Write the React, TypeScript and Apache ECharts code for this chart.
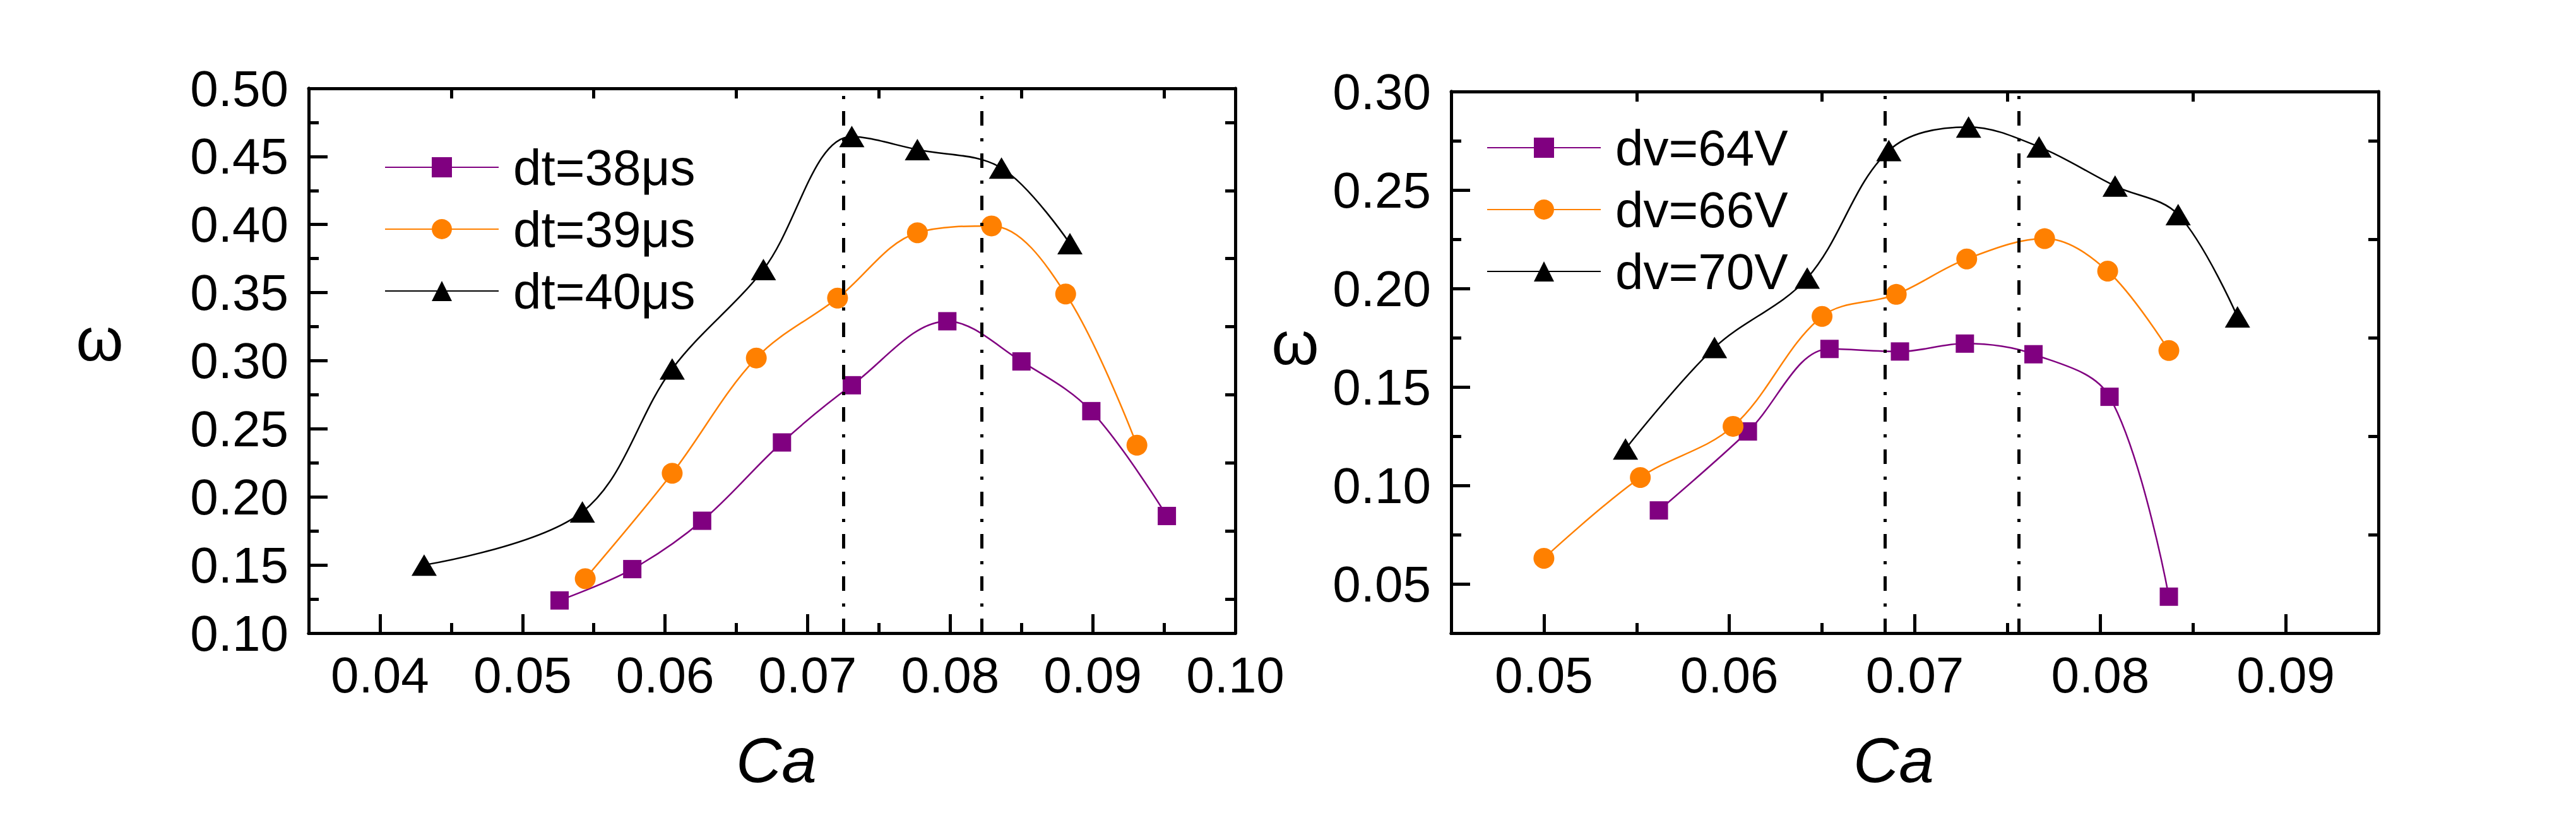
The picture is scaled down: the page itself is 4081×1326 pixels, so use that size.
import React, { useEffect, useRef } from "react";
import * as echarts from "echarts";

// ---------- data (left panel) ----------
const ca38 = [0.0526, 0.0577, 0.0626, 0.0682, 0.0731, 0.0798, 0.0850, 0.0899, 0.0952];
const w38 = [0.124, 0.147, 0.1825, 0.240, 0.282, 0.329, 0.2995, 0.263, 0.186];
const ca39 = [0.0544, 0.0605, 0.0664, 0.0721, 0.0777, 0.0829, 0.0881, 0.0931];
const w39 = [0.140, 0.2174, 0.302, 0.346, 0.394, 0.399, 0.349, 0.238];
const ca40 = [0.0431, 0.0542, 0.0605, 0.0669, 0.0731, 0.0777, 0.0836, 0.0884];
const w40 = [0.150, 0.189, 0.294, 0.367, 0.4647, 0.455, 0.4415, 0.386];
const refLinesLeft = [0.0725, 0.0822];

// ---------- data (right panel) ----------
const ca64 = [0.0562, 0.0610, 0.0654, 0.0692, 0.0727, 0.0764, 0.0805, 0.0837];
const w64 = [0.0873, 0.1274, 0.1693, 0.168, 0.172, 0.1666, 0.145, 0.0435];
const ca66 = [0.0500, 0.0552, 0.0602, 0.0650, 0.0690, 0.0728, 0.0770, 0.0804, 0.0837];
const w66 = [0.063, 0.104, 0.130, 0.1858, 0.197, 0.215, 0.2253, 0.2088, 0.1685];
const ca70 = [0.0544, 0.0592, 0.0642, 0.0686, 0.0729, 0.0767, 0.0808, 0.0842, 0.0874];
const w70 = [0.1185, 0.170, 0.2053, 0.270, 0.282, 0.2719, 0.252, 0.2375, 0.1856];
const refLinesRight = [0.0684, 0.0756];

// ---------- tick values ----------
const leftXMajor = [0.04, 0.05, 0.06, 0.07, 0.08, 0.09, 0.1];
const leftXMinor = [0.045, 0.055, 0.065, 0.075, 0.085, 0.095];
const leftYMajor = [0.1, 0.15, 0.2, 0.25, 0.3, 0.35, 0.4, 0.45, 0.5];
const leftYMinor = [0.125, 0.175, 0.225, 0.275, 0.325, 0.375, 0.425, 0.475];
const rightXMajor = [0.05, 0.06, 0.07, 0.08, 0.09];
const rightXMinor = [0.055, 0.065, 0.075, 0.085];
const rightYMajor = [0.05, 0.1, 0.15, 0.2, 0.25, 0.3];
const rightYMinor = [0.075, 0.125, 0.175, 0.225, 0.275];

const legendLeft = ["dt=38μs", "dt=39μs", "dt=40μs"];
const legendRight = ["dv=64V", "dv=66V", "dv=70V"];
const xTitle = "Ca";
const yTitle = "ω";

const FONT = "'Liberation Sans', Arial, sans-serif";
const PURPLE = "#800080";
const ORANGE = "#FF8000";
const BLACK = "#000000";

const GRIDS = [
  { left: 489, top: 140, width: 1468, height: 863 },
  { left: 2299, top: 145, width: 1469, height: 858 },
];
const LEFT_X = [0.035, 0.1];
const LEFT_Y = [0.1, 0.5];
const RIGHT_X = [0.045, 0.095];
const RIGHT_Y = [0.025, 0.3];

const zip = (xs: number[], ys: number[]) => xs.map((x, i) => [x, ys[i]]);

export default function App() {
  const dataRef = useRef<HTMLDivElement>(null);
  const axisRef = useRef<HTMLDivElement>(null);

  useEffect(() => {
    if (!dataRef.current || !axisRef.current) return;
    const dataChart = echarts.init(dataRef.current, null, { renderer: "svg" });
    const axisChart = echarts.init(axisRef.current, null, { renderer: "svg" });
    const fmt = (v: number) => v.toFixed(2);

    // ----- data chart: labels, series, legend, titles -----
    const labelAxis = (gridIndex: number, position: string, range: number[], vals: number[], margin: number) => ({
      type: "value",
      gridIndex,
      position,
      min: range[0],
      max: range[1],
      axisLine: { show: false, onZero: false },
      axisTick: { show: false },
      axisLabel: {
        show: true,
        margin,
        color: BLACK,
        fontSize: 80,
        fontFamily: FONT,
        formatter: fmt,
        customValues: vals,
      },
      splitLine: { show: false },
    });

    const lineSeries = (
      name: string,
      xs: number[],
      ys: number[],
      color: string,
      symbol: string,
      symbolSize: any,
      axisIndex: number,
      extra: any = {}
    ) => ({
      type: "line",
      name,
      xAxisIndex: axisIndex,
      yAxisIndex: axisIndex,
      data: zip(xs, ys),
      smooth: 0.35,
      symbol,
      symbolSize,
      showSymbol: true,
      lineStyle: { color, width: 2.5 },
      itemStyle: { color, borderWidth: 0 },
      ...extra,
    });

    const refLine = (vals: number[]) => ({
      silent: true,
      precision: 5,
      symbol: ["none", "none"],
      label: { show: false },
      lineStyle: { color: BLACK, width: 5, type: [23, 19, 5, 20] },
      data: vals.map((v) => ({ xAxis: v })),
    });

    const legendCommon = {
      orient: "vertical",
      padding: 0,
      itemWidth: 180,
      itemHeight: 40,
      itemGap: 18,
      textStyle: { color: BLACK, fontSize: 80, fontFamily: FONT, lineHeight: 80, padding: [0, 0, 0, 18] },
    };

    const titleText = (text: string, x: number, y: number, size: number, italic: boolean) => ({
      type: "text",
      x,
      y,
      silent: true,
      style: {
        text,
        fill: BLACK,
        font: `${italic ? "italic " : ""}${size}px ${FONT}`,
        align: "center",
        verticalAlign: "middle",
      },
    });

    dataChart.setOption({
      animation: false,
      grid: GRIDS,
      legend: [
        { ...legendCommon, data: legendLeft, left: 609, top: 225 },
        { ...legendCommon, data: legendRight, left: 2355, top: 194 },
      ],
      xAxis: [labelAxis(0, "bottom", LEFT_X, leftXMajor, 26), labelAxis(1, "bottom", RIGHT_X, rightXMajor, 26)],
      yAxis: [labelAxis(0, "left", LEFT_Y, leftYMajor, 32), labelAxis(1, "left", RIGHT_Y, rightYMajor, 32)],
      graphic: [
        titleText(xTitle, 1230, 1204, 100, true),
        titleText(xTitle, 3000, 1204, 100, true),
        titleText(yTitle, 158, 537, 96, false),
        titleText(yTitle, 2052, 543, 96, false),
      ],
      series: [
        lineSeries(legendLeft[0], ca38, w38, PURPLE, "rect", 29, 0, { markLine: refLine(refLinesLeft) }),
        lineSeries(legendLeft[1], ca39, w39, ORANGE, "circle", 33, 0),
        lineSeries(legendLeft[2], ca40, w40, BLACK, "triangle", [40, 34], 0),
        lineSeries(legendRight[0], ca64, w64, PURPLE, "rect", 29, 1, { markLine: refLine(refLinesRight) }),
        lineSeries(legendRight[1], ca66, w66, ORANGE, "circle", 33, 1),
        lineSeries(legendRight[2], ca70, w70, BLACK, "triangle", [40, 34], 1),
      ],
    } as any);

    // ----- axis chart: frame lines and inward ticks on the same scales -----
    const tickAxis = (gridIndex: number, position: string, range: number[], vals: number[], length: number) => ({
      type: "value",
      gridIndex,
      position,
      min: range[0],
      max: range[1],
      axisLine: { show: true, onZero: false, lineStyle: { color: BLACK, width: 5 } },
      axisTick: { show: true, inside: true, length, lineStyle: { color: BLACK, width: 5 }, customValues: vals },
      axisLabel: { show: false, customValues: vals },
      splitLine: { show: false },
    });

    axisChart.setOption({
      animation: false,
      grid: GRIDS,
      xAxis: [
        tickAxis(0, "bottom", LEFT_X, leftXMajor, 30),
        tickAxis(0, "bottom", LEFT_X, leftXMinor, 16),
        tickAxis(0, "top", LEFT_X, leftXMinor, 16),
        tickAxis(1, "bottom", RIGHT_X, rightXMajor, 30),
        tickAxis(1, "bottom", RIGHT_X, rightXMinor, 16),
        tickAxis(1, "top", RIGHT_X, rightXMinor, 16),
      ],
      yAxis: [
        tickAxis(0, "left", LEFT_Y, leftYMajor, 30),
        tickAxis(0, "left", LEFT_Y, leftYMinor, 16),
        tickAxis(0, "right", LEFT_Y, leftYMinor, 16),
        tickAxis(1, "left", RIGHT_Y, rightYMajor, 30),
        tickAxis(1, "left", RIGHT_Y, rightYMinor, 16),
        tickAxis(1, "right", RIGHT_Y, rightYMinor, 16),
      ],
      series: [],
    } as any);

    return () => {
      dataChart.dispose();
      axisChart.dispose();
    };
  }, []);

  const box: React.CSSProperties = { position: "fixed", left: 0, top: 0, width: 4081, height: 1326 };
  return (
    <>
      <div ref={dataRef} style={box} />
      <div ref={axisRef} style={{ ...box, pointerEvents: "none" }} />
    </>
  );
}
